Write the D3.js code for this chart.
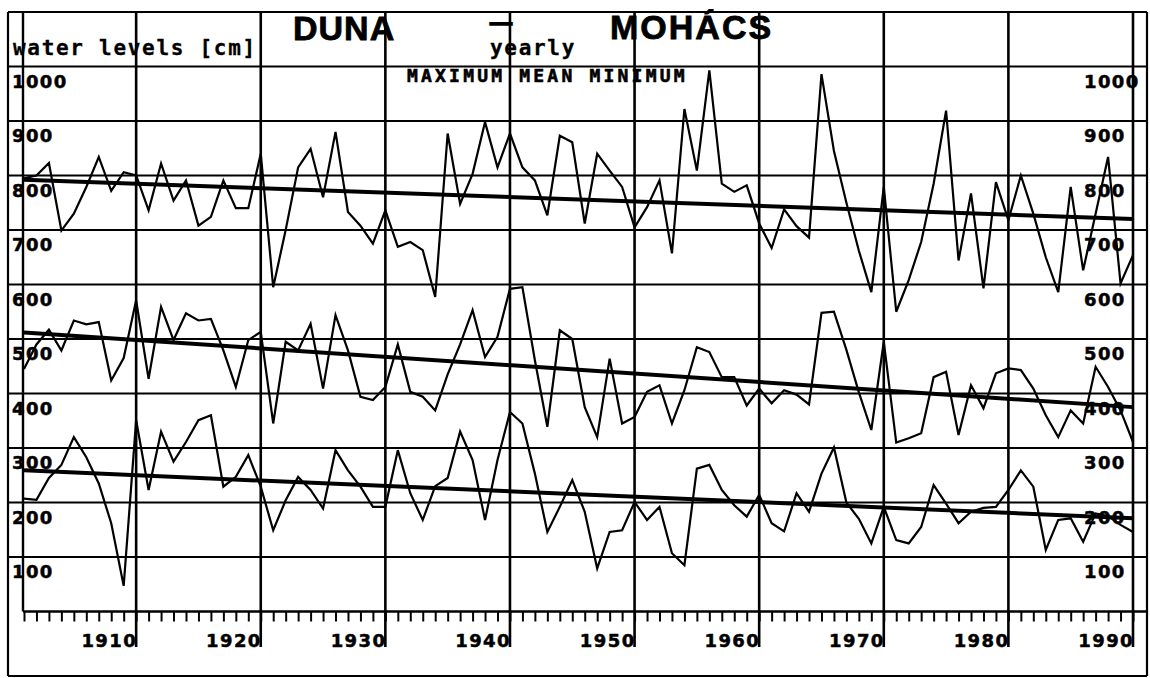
<!DOCTYPE html>
<html><head><meta charset="utf-8">
<script src="https://cdn.jsdelivr.net/npm/d3@7/dist/d3.min.js"></script>
<style>body{margin:0;background:#fff}svg{display:block}</style>
</head><body>
<svg id="c" width="1150" height="678"></svg>
<script>
// ---- data ----
const years = [1901,1902,1903,1904,1905,1906,1907,1908,1909,1910,
1911,1912,1913,1914,1915,1916,1917,1918,1919,1920,
1921,1922,1923,1924,1925,1926,1927,1928,1929,1930,
1931,1932,1933,1934,1935,1936,1937,1938,1939,1940,
1941,1942,1943,1944,1945,1946,1947,1948,1949,1950,
1951,1952,1953,1954,1955,1956,1957,1958,1959,1960,
1961,1962,1963,1964,1965,1966,1967,1968,1969,1970,
1971,1972,1973,1974,1975,1976,1977,1978,1979,1980,
1981,1982,1983,1984,1985,1986,1987,1988,1989,1990];

const maxLevels = [795,800,823,699,730,779,834,772,806,800,
736,822,754,791,708,724,791,740,740,840,
595,700,815,849,760,880,733,708,675,736,
669,678,663,577,877,748,803,898,815,877,
815,791,727,873,861,712,840,809,779,705,
742,791,657,922,809,993,785,770,782,712,
667,738,707,686,986,845,750,662,586,779,
550,608,678,785,919,644,767,593,788,718,
800,730,650,586,779,626,730,834,602,654];

const meanLevels = [445,490,517,479,534,527,531,424,465,571,
427,559,498,547,534,537,479,412,498,513,
345,495,479,528,409,544,479,394,388,412,
490,403,394,369,435,490,553,467,504,592,
595,461,339,516,500,375,320,464,345,357,
403,415,345,406,485,476,430,430,378,409,
382,406,398,380,548,550,480,402,333,495,
310,318,327,430,440,324,415,373,437,446,
443,409,360,320,369,345,449,412,369,311];

const minLevels = [207,205,245,269,320,283,235,162,47,351,
223,330,275,311,351,360,229,247,287,229,
149,204,247,223,189,296,259,229,192,192,
296,217,168,230,245,330,278,168,278,366,
345,253,146,192,241,183,79,146,149,201,
168,192,107,85,262,269,223,195,174,214,
162,147,217,183,253,301,200,170,125,192,
131,125,155,232,198,162,183,190,192,223,
259,229,113,168,171,128,180,175,159,146];

const trendYears = [1901, 1990];
const maxTrend  = [792, 720];
const meanTrend = [512, 375];
const minTrend  = [259, 171];

const yTickValues = [100,200,300,400,500,600,700,800,900,1000];
const xTickLabels = ["1910","1920","1930","1940","1950","1960","1970","1980","1990"];

// ---- scales ----
const x = d3.scaleLinear().domain([1901, 1990]).range([24, 1133]);
const y = d3.scaleLinear().domain([0, 1000]).range([611.5, 66.5]);

const svg = d3.select("#c");
svg.append("rect").attr("width",1150).attr("height",678).attr("fill","#fff");

const L = 8, R = 1147, T = 12, B = 676;
const ink = "#000";

// outer frame
const frame = svg.append("g").attr("stroke", ink).attr("stroke-width", 2.2).attr("fill","none");
frame.append("line").attr("x1",L).attr("x2",L).attr("y1",T).attr("y2",B);
frame.append("line").attr("x1",R).attr("x2",R).attr("y1",T).attr("y2",B);
frame.append("line").attr("x1",L).attr("x2",R).attr("y1",T).attr("y2",T);
frame.append("line").attr("x1",L).attr("x2",R).attr("y1",B).attr("y2",B);

// horizontal grid
svg.append("g").selectAll("line").data(yTickValues).join("line")
  .attr("x1", L).attr("x2", R)
  .attr("y1", d => y(d)).attr("y2", d => y(d))
  .attr("stroke", ink).attr("stroke-width", 2.2);

// vertical decade grid (extending down to the labels)
svg.append("g").selectAll("line").data(xTickLabels).join("line")
  .attr("x1", d => x(+d)).attr("x2", d => x(+d))
  .attr("y1", T).attr("y2", 647)
  .attr("stroke", ink).attr("stroke-width", 2.6);

// left y axis line
svg.append("line").attr("x1",23).attr("x2",23).attr("y1",T).attr("y2",y(0))
  .attr("stroke", ink).attr("stroke-width", 2.4);

// x axis baseline
svg.append("line").attr("x1",23).attr("x2",R).attr("y1",y(0)).attr("y2",y(0))
  .attr("stroke", ink).attr("stroke-width", 2.6);

// yearly ticks via d3 axis
const xAxis = d3.axisBottom(x).tickValues(years).tickSize(10).tickFormat("");
const ax = svg.append("g").attr("transform", `translate(0,${y(0)})`).call(xAxis);
ax.select(".domain").remove();
ax.selectAll(".tick line").attr("stroke", ink).attr("stroke-width", 2);

// x labels (right-aligned to the decade line)
svg.append("g").selectAll("text").data(xTickLabels).join("text")
  .attr("x", d => x(+d) + 1).attr("y", 647)
  .attr("text-anchor", "end")
  .attr("font-family", "DejaVu Sans").attr("font-weight", "bold")
  .attr("font-size", 18).attr("letter-spacing", 1.4)
  .attr("fill", ink).attr("stroke", ink).attr("stroke-width", 0.5)
  .text(d => d);

// y labels, left and right
const yl = svg.append("g").attr("font-family","DejaVu Sans").attr("font-weight","bold")
  .attr("font-size",18).attr("letter-spacing",1.4).attr("fill",ink)
  .attr("stroke",ink).attr("stroke-width",0.5);
yl.selectAll("text.l").data(yTickValues).join("text").attr("class","l")
  .attr("x", 12).attr("y", d => y(d) + 21).text(d => d);
yl.selectAll("text.r").data(yTickValues).join("text").attr("class","r")
  .attr("x", 1084).attr("y", d => y(d) + 21).text(d => d);

// series
const line = d3.line().x((d,i) => x(years[i])).y(d => y(d)).curve(d3.curveLinear);
const sg = svg.append("g").attr("fill","none").attr("stroke",ink)
  .attr("stroke-width",2.2).attr("stroke-linejoin","miter");
[maxLevels, meanLevels, minLevels].forEach(s => sg.append("path").attr("d", line(s)));

// trend lines
const tline = d3.line().x((d,i) => x(trendYears[i])).y(d => y(d));
const tg = svg.append("g").attr("fill","none").attr("stroke",ink).attr("stroke-width",4);
[maxTrend, meanTrend, minTrend].forEach(s => tg.append("path").attr("d", tline(s)));

// header texts
const mono = "DejaVu Sans Mono";
svg.append("text").attr("x",13).attr("y",55)
  .attr("font-family",mono).attr("font-weight","bold").attr("font-size",21)
  .attr("letter-spacing",1.7).attr("fill",ink).attr("stroke",ink).attr("stroke-width",0.3)
  .text("water levels [cm]");
svg.append("text").attr("x",490).attr("y",55)
  .attr("font-family",mono).attr("font-weight","bold").attr("font-size",21)
  .attr("letter-spacing",1.7).attr("fill",ink).attr("stroke",ink).attr("stroke-width",0.3)
  .text("yearly");
const big = svg.append("g").attr("font-family","Liberation Sans").attr("font-weight","bold")
  .attr("font-size",34).attr("fill",ink).attr("stroke",ink).attr("stroke-width",0.8);
big.append("text").attr("x",293).attr("y",40).attr("letter-spacing",1).text("DUNA");
big.append("text").attr("x",610).attr("y",39).attr("letter-spacing",2).text("MOHÁCS");
svg.append("text").attr("x",490).attr("y",30)
  .attr("font-family","Liberation Sans").attr("font-weight","bold").attr("font-size",22)
  .attr("fill",ink).attr("stroke",ink).attr("stroke-width",1.6).text("—");
svg.append("text").attr("x",407).attr("y",82)
  .attr("font-family",mono).attr("font-weight","bold").attr("font-size",18)
  .attr("letter-spacing",3.2).attr("fill",ink).attr("stroke",ink).attr("stroke-width",0.6)
  .text("MAXIMUM MEAN MINIMUM");
</script>
</body></html>
